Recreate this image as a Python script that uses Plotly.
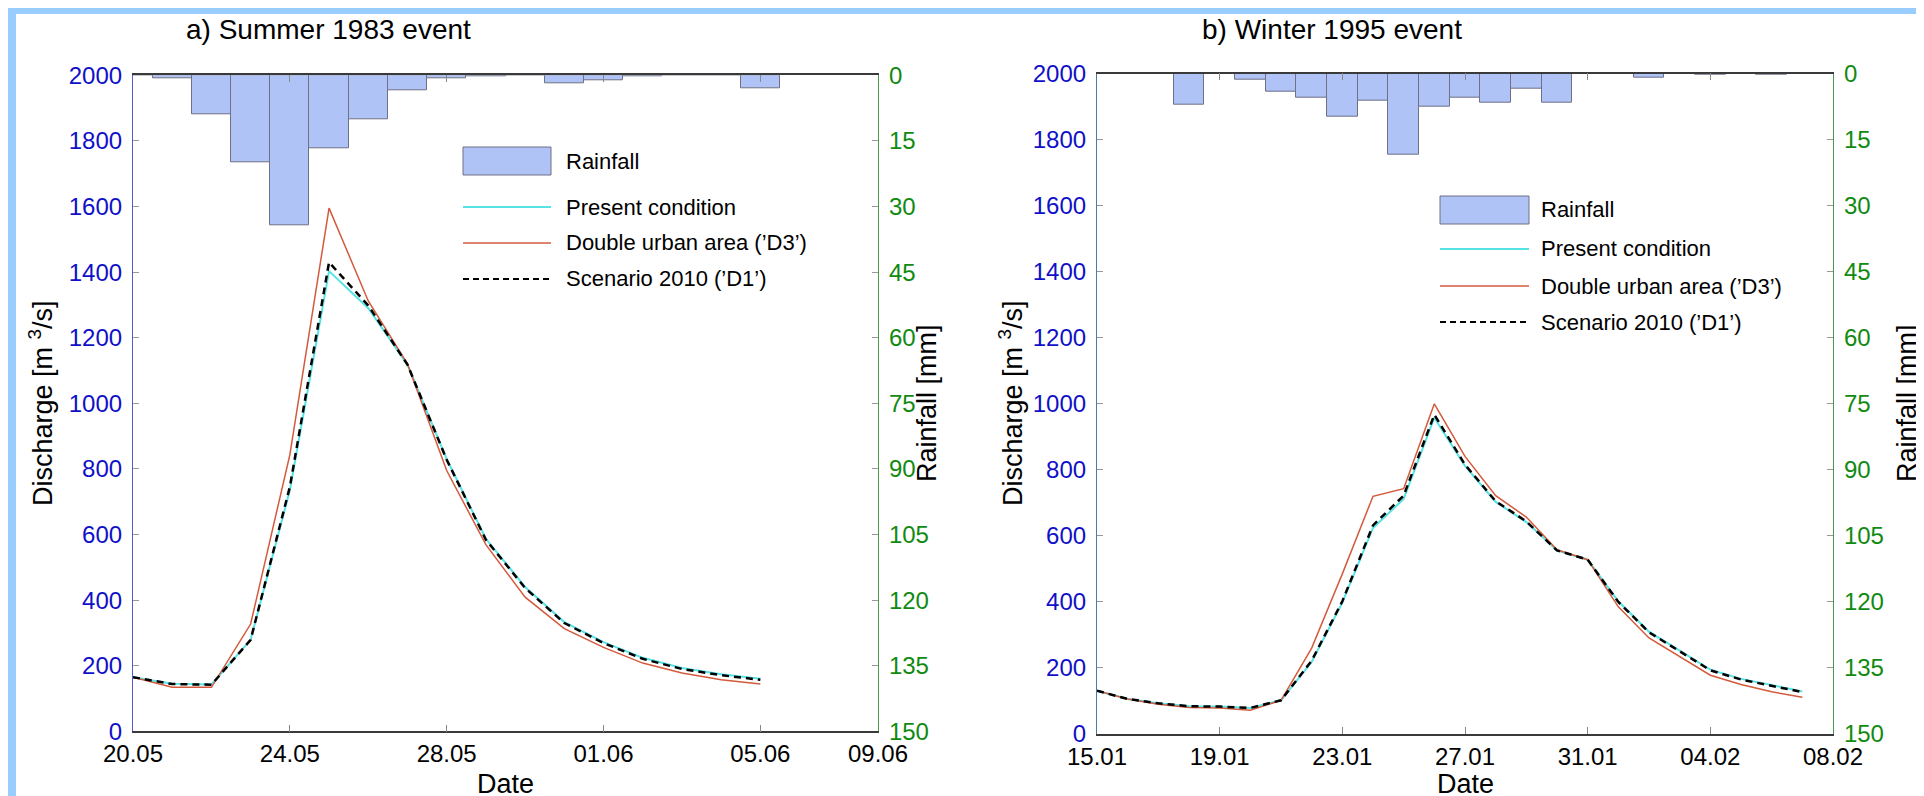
import plotly.graph_objects as go

# ---------------- data ----------------
summer_dates = ["1983-05-20", "1983-05-21", "1983-05-22", "1983-05-23", "1983-05-24", "1983-05-25",
                "1983-05-26", "1983-05-27", "1983-05-28", "1983-05-29", "1983-05-30", "1983-05-31",
                "1983-06-01", "1983-06-02", "1983-06-03", "1983-06-04", "1983-06-05"]
summer_rain = [0, 0.7, 9.0, 20.0, 34.2, 16.7, 10.0, 3.4, 0.7, 0.2, 0.1, 1.9, 1.2, 0.2, 0, 0, 3.0]
summer_present = [165, 145, 143, 279, 735, 1403, 1290, 1118, 830, 587, 440, 333, 272, 224, 193, 174, 160]
summer_d3 = [165, 134, 134, 327, 843, 1595, 1312, 1120, 795, 569, 409, 313, 256, 208, 178, 157, 144]
summer_d1 = [165, 144, 142, 279, 745, 1430, 1298, 1118, 828, 584, 437, 330, 269, 221, 190, 171, 157]
summer_tickvals = ["1983-05-20", "1983-05-24", "1983-05-28", "1983-06-01", "1983-06-05", "1983-06-08"]
summer_ticktext = ["20.05", "24.05", "28.05", "01.06", "05.06", "09.06"]
summer_range = ["1983-05-20", "1983-06-08"]

winter_dates = ["1995-01-15", "1995-01-16", "1995-01-17", "1995-01-18", "1995-01-19", "1995-01-20",
                "1995-01-21", "1995-01-22", "1995-01-23", "1995-01-24", "1995-01-25", "1995-01-26",
                "1995-01-27", "1995-01-28", "1995-01-29", "1995-01-30", "1995-01-31", "1995-02-01",
                "1995-02-02", "1995-02-03", "1995-02-04", "1995-02-05", "1995-02-06", "1995-02-07"]
winter_rain = [0, 0, 0, 7.0, 0, 1.4, 4.1, 5.4, 9.7, 6.1, 18.3, 7.4, 5.5, 6.5, 3.3, 6.6, 0, 0, 0.8, 0, 0.3, 0, 0.3, 0]
winter_present = [131, 106, 93, 84, 83, 79, 102, 218, 398, 624, 712, 958, 812, 703, 642, 556, 528, 402, 310, 252, 195, 167, 147, 129]
winter_d3 = [131, 106, 90, 80, 79, 72, 102, 260, 485, 720, 743, 1000, 841, 722, 657, 558, 528, 385, 291, 235, 178, 150, 128, 111]
winter_d1 = [131, 106, 93, 84, 83, 79, 102, 222, 402, 632, 722, 967, 816, 705, 644, 556, 528, 400, 308, 250, 193, 165, 145, 127]
winter_tickvals = ["1995-01-15", "1995-01-19", "1995-01-23", "1995-01-27", "1995-01-31", "1995-02-04", "1995-02-08"]
winter_ticktext = ["15.01", "19.01", "23.01", "27.01", "31.01", "04.02", "08.02"]
winter_range = ["1995-01-15", "1995-02-08"]

discharge_ticks = [0, 200, 400, 600, 800, 1000, 1200, 1400, 1600, 1800, 2000]
rain_ticks = [0, 15, 30, 45, 60, 75, 90, 105, 120, 135, 150]

panel_titles = ["a) Summer 1983 event", "b) Winter 1995 event"]
legend_labels = ["Rainfall", "Present condition", "Double urban area (\u2019D3\u2019)", "Scenario 2010 (\u2019D1\u2019)"]

# ---------------- style ----------------
W, H = 1924, 796
FONT = "Liberation Sans, Arial, Helvetica, sans-serif"
RAIN_FILL = "#afc3f7"
RAIN_EDGE = "#6e7084"
CYAN = "#55e3e6"
RED = "#d35a3c"
BLUE = "#1010c8"
GREEN = "#108a10"
DAY_MS = 86400000
TICK_SIZE = 24


def px(x):
    return x / W


def py(y):
    return 1 - y / H


fig = go.Figure()

panels = [
    dict(dates=summer_dates, rain=summer_rain, pres=summer_present, d3=summer_d3, d1=summer_d1,
         xa="x", ya="y", ya2="y2"),
    dict(dates=winter_dates, rain=winter_rain, pres=winter_present, d3=winter_d3, d1=winter_d1,
         xa="x2", ya="y3", ya2="y4"),
]

for p in panels:
    fig.add_trace(go.Bar(x=p["dates"], y=p["rain"], xaxis=p["xa"], yaxis=p["ya2"], width=DAY_MS,
                         marker=dict(color=RAIN_FILL, line=dict(color=RAIN_EDGE, width=1)),
                         name="Rainfall", showlegend=False))
    fig.add_trace(go.Scatter(x=p["dates"], y=p["pres"], xaxis=p["xa"], yaxis=p["ya"], mode="lines",
                             line=dict(color=CYAN, width=2), name="Present condition", showlegend=False))
    fig.add_trace(go.Scatter(x=p["dates"], y=p["d3"], xaxis=p["xa"], yaxis=p["ya"], mode="lines",
                             line=dict(color=RED, width=1.5), name="Double urban area", showlegend=False))
    fig.add_trace(go.Scatter(x=p["dates"], y=p["d1"], xaxis=p["xa"], yaxis=p["ya"], mode="lines",
                             line=dict(color="black", width=2.5, dash="7px,5px"), name="Scenario 2010",
                             showlegend=False))

tickfont_x = dict(family=FONT, size=TICK_SIZE, color="black")

xcommon = dict(type="date", showgrid=False, zeroline=False, showline=True, linecolor="#3a3a3a", linewidth=1.5,
               mirror="ticks", ticks="inside", ticklen=7, tickcolor="#888888", tickfont=tickfont_x,
               automargin=False)
ycommon = dict(showgrid=False, zeroline=False, showline=True, linewidth=1.2, ticks="inside", ticklen=6,
               tickcolor="#999999", automargin=False, ticklabelstandoff=5)

fig.update_layout(
    width=W, height=H,
    margin=dict(l=0, r=0, t=0, b=0),
    paper_bgcolor="#99ccff",
    plot_bgcolor="white",
    showlegend=False,
    bargap=0,
    barmode="overlay",
    xaxis=dict(domain=[px(125), px(870)], anchor="y", range=summer_range,
               tickvals=summer_tickvals, ticktext=summer_ticktext, **xcommon),
    yaxis=dict(domain=[py(723.3), py(67.3)], anchor="x", range=[0, 2000], tickvals=discharge_ticks,
               linecolor="#5a5ad0", tickfont=dict(family=FONT, size=TICK_SIZE, color=BLUE), **ycommon),
    yaxis2=dict(overlaying="y", side="right", anchor="x", range=[150, 0], tickvals=rain_ticks,
                linecolor="#4c9a4c", tickfont=dict(family=FONT, size=TICK_SIZE, color=GREEN), **ycommon),
    xaxis2=dict(domain=[px(1089), px(1825)], anchor="y3", range=winter_range,
                tickvals=winter_tickvals, ticktext=winter_ticktext, **xcommon),
    yaxis3=dict(domain=[py(726), py(65.7)], anchor="x2", range=[0, 2000], tickvals=discharge_ticks,
                linecolor="#4a7aa8", tickfont=dict(family=FONT, size=TICK_SIZE, color=BLUE), **ycommon),
    yaxis4=dict(overlaying="y3", side="right", anchor="x2", range=[150, 0], tickvals=rain_ticks,
                linecolor="#4c9a4c", tickfont=dict(family=FONT, size=TICK_SIZE, color=GREEN), **ycommon),
)

shapes = [
    dict(type="rect", xref="paper", yref="paper", x0=px(8), x1=px(1915), y0=py(796), y1=py(6),
         fillcolor="white", line=dict(width=0), layer="below"),
]
annotations = []


def text(x, y, s, size, angle=0, anchor="center", color="black"):
    annotations.append(dict(x=px(x), y=py(y), xref="paper", yref="paper", text=s, showarrow=False,
                            textangle=angle, xanchor=anchor, yanchor="middle",
                            font=dict(family=FONT, size=size, color=color)))


# titles
text(320, 22, panel_titles[0], 28)
text(1324, 22, panel_titles[1], 28)
# axis titles
for xc, xl, xr in [(33, 919, 497), (1003, 1899, 1457)]:
    text(xc, 395, "Discharge [m <sup>3</sup>/s]", 27, angle=-90)
    text(xl, 395, "Rainfall [mm]", 27, angle=-90)
    text(xr, 776, "Date", 27)

# manual legends
legends = [
    dict(x0=455, x1=543, tx=556, rain=(139, 167), rows=[199, 235, 271]),
    dict(x0=1432, x1=1521, tx=1531, rain=(188, 216), rows=[241, 278, 314]),
]
for lg in legends:
    shapes.append(dict(type="rect", xref="paper", yref="paper", x0=px(lg["x0"]), x1=px(lg["x1"]),
                       y0=py(lg["rain"][1]), y1=py(lg["rain"][0]), fillcolor=RAIN_FILL,
                       line=dict(color=RAIN_EDGE, width=1)))
    text(lg["tx"], (lg["rain"][0] + lg["rain"][1]) / 2, legend_labels[0], 22, anchor="left")
    styles = [dict(color=CYAN, width=2), dict(color=RED, width=1.5),
              dict(color="black", width=2, dash="6px,4px")]
    for yy, st, lab in zip(lg["rows"], styles, legend_labels[1:]):
        shapes.append(dict(type="line", xref="paper", yref="paper", x0=px(lg["x0"]), x1=px(lg["x1"]),
                           y0=py(yy), y1=py(yy), line=st))
        text(lg["tx"], yy, lab, 22, anchor="left")

fig.update_layout(shapes=shapes, annotations=annotations)

fig.write_html("out.html")
